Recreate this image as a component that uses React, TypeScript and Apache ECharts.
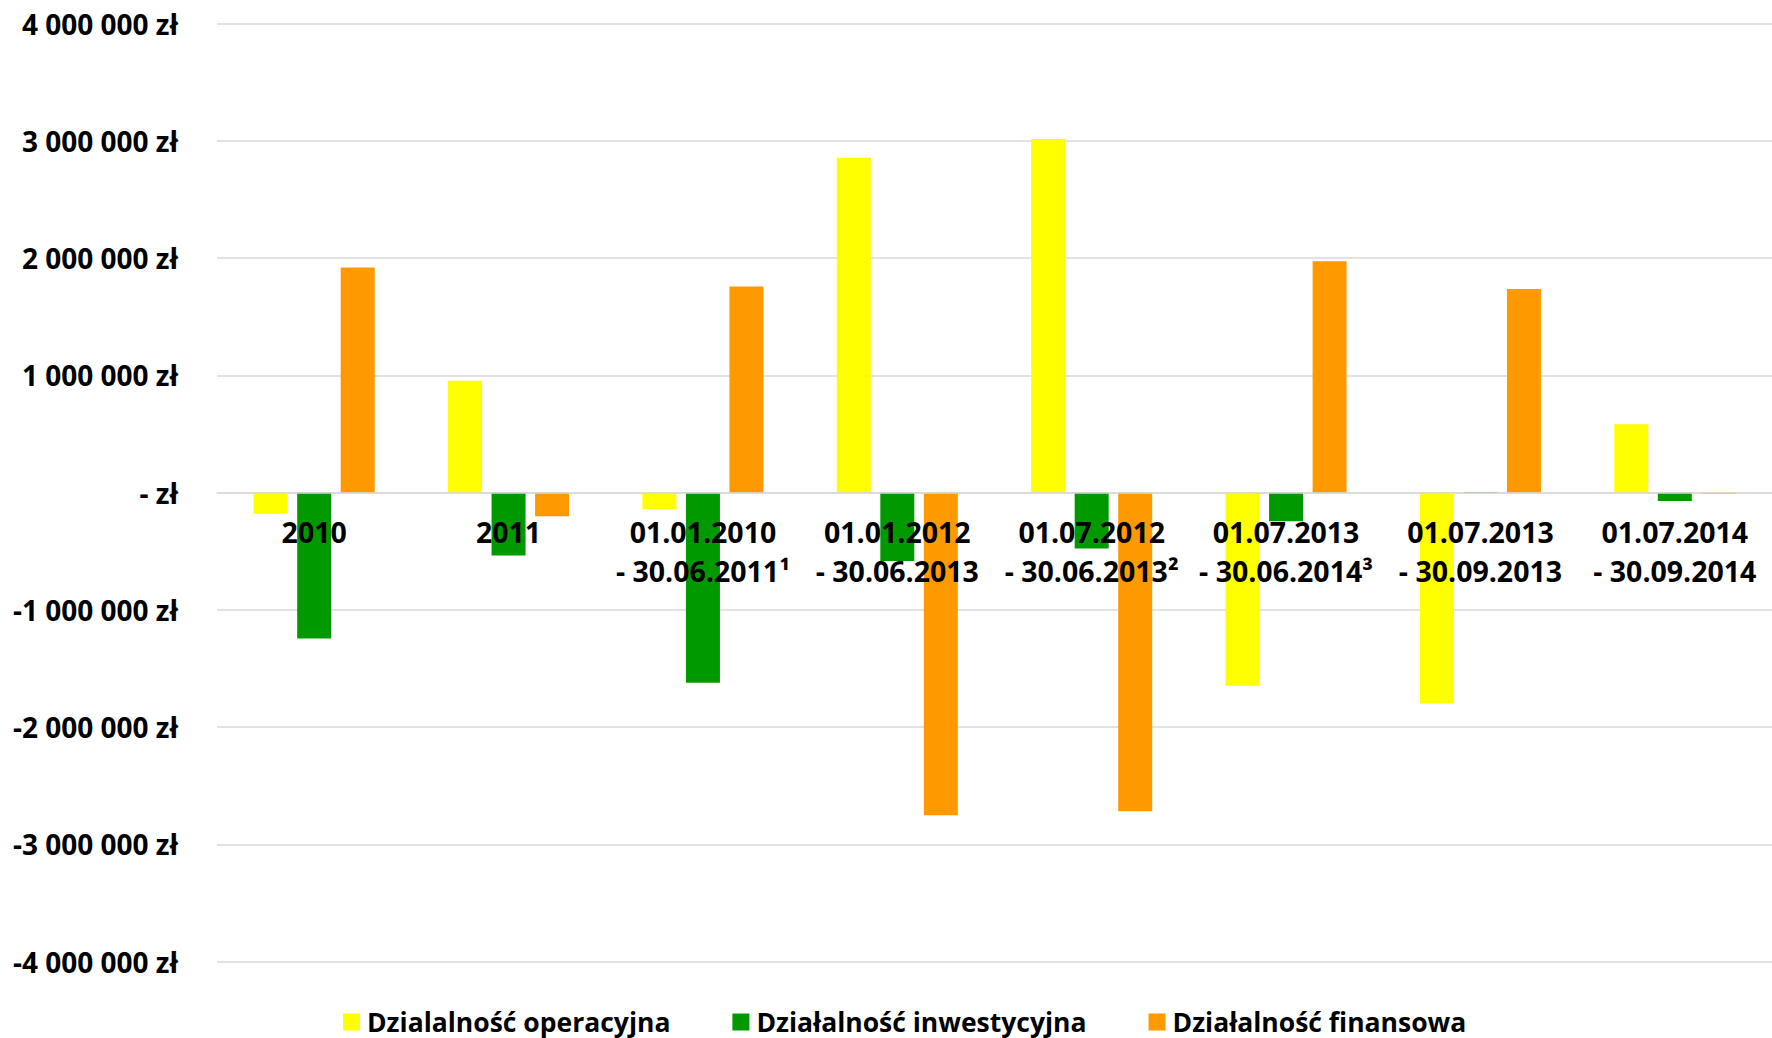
import React, { useEffect, useRef } from "react";
import * as echarts from "echarts";

const categories = [
  "2010",
  "2011",
  "01.01.2010\n- 30.06.2011¹",
  "01.01.2012\n- 30.06.2013",
  "01.07.2012\n- 30.06.2013²",
  "01.07.2013\n- 30.06.2014³",
  "01.07.2013\n- 30.09.2013",
  "01.07.2014\n- 30.09.2014",
];

const seriesNames = [
  "Dzialalność operacyjna",
  "Działalność inwestycyjna",
  "Działalność finansowa",
];

const operacyjna = [-180000, 955000, -140000, 2857000, 3017000, -1646000, -1797000, 584000];
const inwestycyjna = [-1244000, -536000, -1620000, -582000, -476000, -243000, 5000, -71000];
const finansowa = [1920000, -200000, 1758000, -2750000, -2716000, 1974000, 1738000, -12000];

const yMin = -4000000;
const yMax = 4000000;
const yStep = 1000000;

const colors = ["#FFFF00", "#009900", "#FF9900"];

const formatZl = (v: number) => {
  if (v === 0) return "- zł";
  const s = Math.abs(v).toString().replace(/\B(?=(\d{3})+(?!\d))/g, " ");
  return (v < 0 ? "-" : "") + s + " zł";
};

export default function App() {
  const ref = useRef<HTMLDivElement>(null);
  useEffect(() => {
    if (!ref.current) return;
    const chart = echarts.init(ref.current, null, { renderer: "svg" });
    const font = "'Open Sans', sans-serif";
    const data = [operacyjna, inwestycyjna, finansowa];
    const gridTop = 23.7;
    const gridBottom = 76.3;
    const plotH = 1038 - gridTop - gridBottom;
    // move the category axis up to the zero line (like Excel's axis crossing at 0)
    const zeroOffset = -plotH * (0 - yMin) / (yMax - yMin);
    chart.setOption({
      animation: false,
      backgroundColor: "#ffffff",
      grid: {
        left: 217,
        right: 0,
        top: gridTop,
        bottom: gridBottom,
        containLabel: false,
        outerBoundsMode: "none",
      },
      legend: {
        left: 338,
        top: 1002,
        itemWidth: 17,
        itemHeight: 17,
        itemGap: 62,
        icon: "rect",
        data: seriesNames,
        textStyle: {
          fontFamily: font,
          fontSize: 26.5,
          lineHeight: 30,
          fontWeight: "bold",
          color: "#000",
          padding: [0, 0, 0, 2],
        },
      },
      xAxis: {
        type: "category",
        data: categories,
        z: 10,
        offset: zeroOffset,
        axisTick: { show: false },
        axisLine: { show: true, onZero: false, lineStyle: { color: "#d9d9d9", width: 1.5 } },
        axisLabel: {
          interval: 0,
          margin: 20,
          fontFamily: font,
          fontSize: 28.5,
          fontWeight: "bold",
          color: "#000",
          lineHeight: 39,
        },
      },
      yAxis: {
        type: "value",
        min: yMin,
        max: yMax,
        interval: yStep,
        axisLine: { show: false },
        axisTick: { show: false },
        splitLine: { lineStyle: { color: "#d9d9d9", width: 1.5 } },
        axisLabel: {
          margin: 39,
          fontFamily: font,
          fontSize: 28,
          fontWeight: "bold",
          color: "#000",
          formatter: formatZl,
        },
      },
      series: seriesNames.map((name, i) => ({
        name,
        type: "bar",
        data: data[i],
        barWidth: 34,
        barGap: "28%",
        itemStyle: { color: colors[i] },
      })),
    });
    return () => chart.dispose();
  }, []);
  return (
    <div
      ref={ref}
      style={{ position: "absolute", left: 0, top: 0, width: 1772, height: 1038 }}
    />
  );
}
